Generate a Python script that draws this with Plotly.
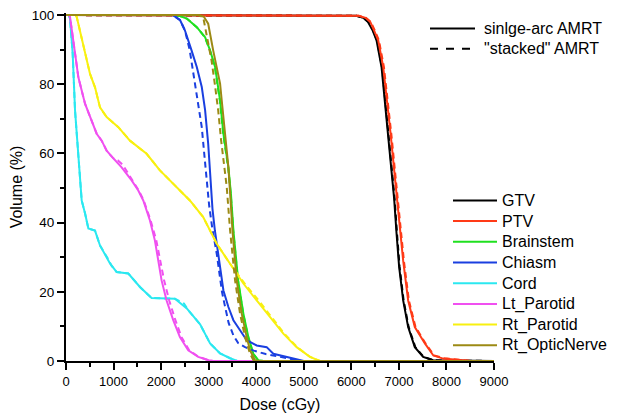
import plotly.graph_objects as go

FONT = "Liberation Sans, Arial, Helvetica, sans-serif"

# ---------------- data (dose in cGy, volume in %) ----------------
organs = ["GTV", "PTV", "Brainstem", "Chiasm", "Cord", "Lt_Parotid", "Rt_Parotid", "Rt_OpticNerve"]
colors = ["#000000", "#FF3A17", "#1FE01F", "#1A3FE0", "#2BE8F0", "#F050F0", "#F8F010", "#9C8A14"]
style_labels = ["sinlge-arc AMRT", "\"stacked\" AMRT"]

gtv_single_dose = [0, 5900, 6100, 6250, 6350, 6450, 6530, 6635, 6705, 6775, 6845, 6900, 6950, 7005, 7090, 7195, 7335, 7510, 7720, 9000]
gtv_single_vol = [100, 100, 99.8, 99.2, 98, 95.5, 92.7, 85, 75.3, 65.7, 56, 47, 37, 27.2, 17.5, 9.8, 4.0, 1.2, 0.2, 0]
gtv_stacked_dose = [0, 5900, 6110, 6260, 6360, 6460, 6540, 6645, 6715, 6785, 6855, 6910, 6960, 7015, 7100, 7205, 7345, 7520, 7730, 9000]
gtv_stacked_vol = [100, 100, 99.8, 99.2, 98, 95.5, 92.7, 85, 75.3, 65.7, 56, 47, 37, 27.2, 17.5, 9.8, 4.0, 1.2, 0.2, 0]

ptv_single_dose = [0, 5900, 6150, 6300, 6400, 6480, 6565, 6670, 6755, 6825, 6895, 6975, 7045, 7090, 7195, 7335, 7550, 7725, 7930, 8280, 8500, 9000]
ptv_single_vol = [100, 100, 99.8, 99.2, 98, 95.5, 92.7, 85, 75.3, 65.7, 56, 45, 36.8, 29, 17.5, 9.8, 5.0, 1.6, 0.7, 0.3, 0, 0]
ptv_stacked_dose = [0, 5900, 6160, 6310, 6410, 6495, 6580, 6685, 6770, 6840, 6910, 6990, 7060, 7105, 7210, 7350, 7565, 7740, 7950, 8300, 8520, 9000]
ptv_stacked_vol = [100, 100, 99.8, 99.2, 98, 95.5, 92.7, 85, 75.3, 65.7, 56, 45, 36.8, 29, 17.5, 9.8, 5.0, 1.6, 0.8, 0.3, 0, 0]

brainstem_single_dose = [0, 2300, 2400, 2540, 2750, 2925, 3030, 3135, 3240, 3310, 3415, 3470, 3520, 3620, 3730, 3835, 3940, 4045, 4150, 9000]
brainstem_single_vol = [100, 100, 99.7, 99, 96.5, 93.6, 89.8, 85, 75.3, 65.7, 56, 48, 37.8, 23.3, 13.7, 6.9, 2.1, 0.2, 0, 0]
brainstem_stacked_dose = [0, 2300, 2400, 2540, 2750, 2920, 3025, 3130, 3235, 3305, 3410, 3465, 3515, 3615, 3725, 3830, 3935, 4040, 4150, 9000]
brainstem_stacked_vol = [100, 100, 99.7, 99, 96.5, 93.6, 89.8, 85, 75.3, 65.7, 56, 48, 37.8, 23.3, 13.7, 6.9, 2.1, 0.2, 0, 0]

chiasm_single_dose = [0, 2250, 2400, 2500, 2640, 2750, 2855, 2925, 2990, 3040, 3080, 3130, 3240, 3310, 3415, 3520, 3660, 3800, 4010, 4220, 4360, 4640, 4920, 5000, 9000]
chiasm_single_vol = [100, 100, 98.5, 95.6, 89.8, 85, 79.2, 72.5, 62.8, 51, 44, 37.8, 27.2, 20.4, 15.6, 11.8, 8.9, 6.0, 4.5, 4.0, 2.1, 1.2, 0.2, 0, 0]
chiasm_stacked_dose = [0, 2250, 2400, 2500, 2600, 2680, 2780, 2855, 2920, 2960, 3010, 3080, 3170, 3230, 3280, 3340, 3420, 3520, 3620, 3765, 3950, 4200, 4500, 4850, 4950, 9000]
chiasm_stacked_vol = [100, 100, 98.5, 95.6, 90, 83, 75, 67.6, 58, 51.3, 45, 38, 31, 25, 20, 16, 11, 7.4, 5.2, 4.0, 3.0, 2.0, 1.2, 0.2, 0, 0]

cord_single_dose = [0, 60, 84, 140, 190, 260, 310, 330, 400, 470, 610, 715, 925, 1065, 1310, 1555, 1800, 2290, 2540, 2820, 3030, 3240, 3450, 3600, 9000]
cord_single_vol = [100, 100, 99, 89, 72.4, 58, 49, 46.4, 42.7, 38.3, 37.7, 33.4, 28.2, 25.7, 25.3, 21.4, 18.2, 18.0, 15.2, 10.6, 5.1, 2.2, 0.8, 0, 0]
cord_stacked_dose = [0, 60, 84, 140, 190, 260, 310, 330, 400, 470, 610, 715, 880, 960, 1065, 1310, 1555, 1800, 2290, 2480, 2600, 2820, 3030, 3240, 3450, 3600, 9000]
cord_stacked_vol = [100, 100, 99, 89, 72.4, 58, 49, 46.4, 42.7, 38.3, 37.7, 33.4, 29.6, 27.5, 25.7, 25.3, 21.4, 18.2, 18.0, 16.6, 14.2, 10.6, 5.1, 2.2, 0.8, 0, 0]

lt_parotid_single_dose = [0, 60, 84, 155, 260, 400, 540, 645, 750, 855, 995, 1170, 1380, 1520, 1625, 1765, 1870, 1940, 2010, 2115, 2255, 2395, 2570, 2780, 3000, 3100, 9000]
lt_parotid_single_vol = [100, 100, 99.5, 91.8, 82, 74.4, 69.5, 65.7, 63.7, 60.8, 58.6, 56, 52.2, 49.3, 46.4, 40.6, 34.8, 29, 23.3, 17.5, 11.8, 6.9, 3.1, 1.2, 0.2, 0, 0]
lt_parotid_stacked_dose = [0, 60, 84, 155, 260, 400, 540, 645, 750, 855, 995, 1090, 1190, 1390, 1530, 1635, 1780, 1900, 1975, 2060, 2170, 2300, 2430, 2590, 2790, 3000, 3100, 9000]
lt_parotid_stacked_vol = [100, 100, 99.5, 91.8, 82, 74.4, 69.5, 65.7, 63.7, 60.8, 58.6, 58.0, 56.8, 52.5, 49.3, 46.4, 40.6, 34.8, 29.5, 23.5, 17.5, 11.8, 6.9, 3.1, 1.2, 0.2, 0, 0]

rt_parotid_single_dose = [0, 200, 225, 295, 435, 505, 610, 715, 855, 1100, 1345, 1695, 1975, 2325, 2605, 2885, 3170, 3450, 3730, 4010, 4290, 4570, 4850, 5130, 5340, 9000]
rt_parotid_single_vol = [100, 100, 99.5, 95.5, 86.9, 83, 79.1, 73.3, 70.5, 67.6, 63.7, 59.9, 55.1, 50.3, 46.4, 41.6, 33.9, 28.1, 22.4, 17.5, 12.7, 7.9, 4.0, 1.2, 0, 0]
rt_parotid_stacked_dose = [0, 200, 225, 295, 435, 505, 610, 715, 855, 1100, 1345, 1695, 1975, 2325, 2605, 2885, 3170, 3450, 3790, 4070, 4330, 4590, 4860, 5130, 5340, 9000]
rt_parotid_stacked_vol = [100, 100, 99.5, 95.5, 86.9, 83, 79.1, 73.3, 70.5, 67.6, 63.7, 59.9, 55.1, 50.3, 46.4, 41.6, 33.9, 28.1, 21.8, 17.2, 12.7, 7.9, 4.0, 1.2, 0, 0]

rt_opticnerve_single_dose = [0, 2800, 2900, 2990, 3095, 3170, 3240, 3275, 3345, 3415, 3470, 3500, 3590, 3695, 3800, 3870, 3975, 4050, 9000]
rt_opticnerve_single_vol = [100, 100, 99.5, 97.5, 89.8, 85, 80.2, 75.3, 65.7, 56, 44.5, 37.8, 23.3, 13.7, 6.9, 3.1, 0.2, 0, 0]
rt_opticnerve_stacked_dose = [0, 2780, 2885, 2960, 3060, 3130, 3200, 3260, 3310, 3380, 3450, 3555, 3660, 3765, 3870, 3950, 9000]
rt_opticnerve_stacked_vol = [100, 100, 99.4, 94, 86.9, 80, 72.5, 64, 58, 50.3, 37.8, 23.3, 13.7, 6.9, 2.1, 0, 0]

x_tick_vals = [0, 1000, 2000, 3000, 4000, 5000, 6000, 7000, 8000, 9000]
y_tick_vals = [0, 20, 40, 60, 80, 100]

single = [
    (gtv_single_dose, gtv_single_vol), (ptv_single_dose, ptv_single_vol),
    (brainstem_single_dose, brainstem_single_vol), (chiasm_single_dose, chiasm_single_vol),
    (cord_single_dose, cord_single_vol), (lt_parotid_single_dose, lt_parotid_single_vol),
    (rt_parotid_single_dose, rt_parotid_single_vol), (rt_opticnerve_single_dose, rt_opticnerve_single_vol),
]
stacked = [
    (gtv_stacked_dose, gtv_stacked_vol), (ptv_stacked_dose, ptv_stacked_vol),
    (brainstem_stacked_dose, brainstem_stacked_vol), (chiasm_stacked_dose, chiasm_stacked_vol),
    (cord_stacked_dose, cord_stacked_vol), (lt_parotid_stacked_dose, lt_parotid_stacked_vol),
    (rt_parotid_stacked_dose, rt_parotid_stacked_vol), (rt_opticnerve_stacked_dose, rt_opticnerve_stacked_vol),
]

# ---------------- figure ----------------
# the page body adds an 8px offset, so the figure margins are reduced by it
OFF = 8
W, H = 619, 420
PLOT_L, PLOT_T = 66, 12.6          # plot area origin in window pixels
PW, PH = 428, 348
L, T = PLOT_L - OFF, round(PLOT_T - OFF)
R, B = W - L - PW, H - T - PH
DASH = "6px,4px"


def px_x(px):
    return (px - PLOT_L) / PW


def px_y(py):
    return (PLOT_T + PH - py) / PH


fig = go.Figure()
for i, name in enumerate(organs):
    d, v = single[i]
    fig.add_trace(go.Scatter(x=d, y=v, mode="lines", name=name, showlegend=False,
                             line=dict(color=colors[i], width=2)))
    d, v = stacked[i]
    fig.add_trace(go.Scatter(x=d, y=v, mode="lines", name=name + " stacked", showlegend=False,
                             line=dict(color=colors[i], width=2, dash=DASH)))

shapes = []
annotations = []
# style key (top right)
for j, lab in enumerate(style_labels):
    yy = px_y(28 + j * 20.3)
    shapes.append(dict(type="line", xref="paper", yref="paper", x0=px_x(430), x1=px_x(475), y0=yy, y1=yy,
                       line=dict(color="black", width=2, dash=None if j == 0 else "8px,8px")))
    annotations.append(dict(xref="paper", yref="paper", x=px_x(482), y=yy, text=lab, showarrow=False,
                            xanchor="left", yanchor="middle", font=dict(size=16, color="black", family=FONT)))
# organ key
for i, name in enumerate(organs):
    yy = px_y(200 + i * 20.7)
    shapes.append(dict(type="line", xref="paper", yref="paper", x0=px_x(453), x1=px_x(497), y0=yy, y1=yy,
                       line=dict(color=colors[i], width=2)))
    annotations.append(dict(xref="paper", yref="paper", x=px_x(500), y=yy, text=name, showarrow=False,
                            xanchor="left", yanchor="middle", font=dict(size=16, color="black", family=FONT)))

fig.update_layout(
    width=W, height=H,
    margin=dict(l=L, r=R, t=T, b=B, pad=0),
    paper_bgcolor="white", plot_bgcolor="white",
    font=dict(family=FONT, color="black"),
    showlegend=False,
    shapes=shapes, annotations=annotations,
)
fig.update_xaxes(
    range=[0, 9000], tickvals=x_tick_vals, ticktext=[str(t) for t in x_tick_vals],
    showgrid=False, zeroline=False, showline=True, linecolor="black", linewidth=2,
    ticks="outside", ticklen=7, tickwidth=2, tickcolor="black",
    minor=dict(dtick=500, ticks="outside", ticklen=4, tickwidth=2, tickcolor="black", showgrid=False),
    tickfont=dict(size=13, family=FONT, color="black"), ticklabeloverflow="allow",
    title=dict(text="Dose (cGy)", font=dict(size=16, family=FONT, color="black"), standoff=11),
    layer="below traces", automargin=False,
)
fig.update_yaxes(
    range=[0, 100.6], tickvals=y_tick_vals, ticktext=[str(t) for t in y_tick_vals],
    showgrid=False, zeroline=False, showline=True, linecolor="black", linewidth=2,
    ticks="outside", ticklen=7, tickwidth=2, tickcolor="black",
    minor=dict(dtick=10, ticks="outside", ticklen=4, tickwidth=2, tickcolor="black", showgrid=False),
    tickfont=dict(size=13.5, family=FONT, color="black"), ticklabeloverflow="allow",
    title=dict(text="Volume (%)", font=dict(size=16, family=FONT, color="black"), standoff=8),
    layer="below traces", automargin=False,
)

fig.write_html("out.html")
